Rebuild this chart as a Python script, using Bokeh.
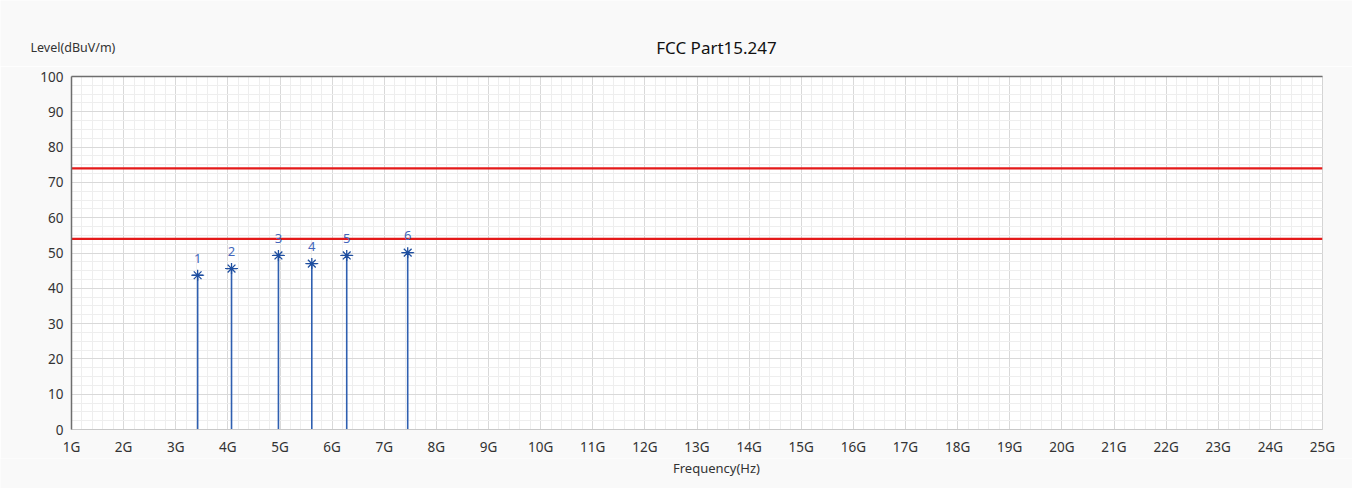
from bokeh.plotting import figure
from bokeh.layouts import column, row
from bokeh.models import (Range1d, SingleIntervalTicker, FixedTicker, LinearAxis,
                          ColumnDataSource, LabelSet)
from bokeh.core.properties import value
from bokeh.embed import file_html
from bokeh.resources import INLINE

# ---- data ----
marker_ids = ["1", "2", "3", "4", "5", "6"]
freq_ghz = [3.42, 4.07, 4.97, 5.61, 6.28, 7.45]
level_dbuv = [43.7, 45.6, 49.3, 47.0, 49.3, 50.1]
limit_peak = 74.0
limit_avg = 54.0
x_ticks = list(range(1, 26))
x_tick_labels = [f"{t}G" for t in x_ticks]
title_text = "FCC Part15.247"
y_title = "Level(dBuV/m)"
x_title = "Frequency(Hz)"

FONT = "Noto Sans"
TXT = "#333333"
BG = "#f9f9f9"
W = 1352


def text_strip(height):
    f = figure(width=W, height=height, output_backend="svg", toolbar_location=None,
               x_range=Range1d(0, W), y_range=Range1d(0, height),
               x_axis_location=None, y_axis_location=None, min_border=0)
    f.grid.visible = False
    f.outline_line_color = None
    f.background_fill_color = BG
    f.border_fill_color = BG
    return f


# header with chart title and y-axis title (pixel layout coordinates)
HEAD_H = 66
head = text_strip(HEAD_H)
head.text(x=[716], y=[HEAD_H - 47], text=[title_text], text_align="center",
          text_baseline="middle", text_font=value(FONT), text_font_size="17px",
          text_color="#111111")
head.text(x=[30], y=[HEAD_H - 47], text=[y_title], text_align="left",
          text_baseline="middle", text_font=value(FONT), text_font_size="12.5px",
          text_color=TXT)

# main chart: frame spans page y 76..431
p = figure(width=W, height=392, output_backend="svg", toolbar_location=None,
           x_range=Range1d(1, 25), y_range=Range1d(0, 100),
           min_border_left=71, min_border_right=30, min_border_top=10,
           min_border_bottom=27)
p.border_fill_color = BG
p.background_fill_color = "white"
p.outline_line_color = "#d4d4d4"

p.xaxis.ticker = SingleIntervalTicker(interval=1, num_minor_ticks=5)
p.yaxis.ticker = SingleIntervalTicker(interval=10, num_minor_ticks=4)
p.xaxis.major_label_overrides = {t: l for t, l in zip(x_ticks, x_tick_labels)}
for ax in (p.xaxis[0], p.yaxis[0]):
    ax.major_tick_line_color = None
    ax.minor_tick_line_color = None
    ax.major_tick_out = 0
    ax.minor_tick_out = 0
    ax.major_tick_in = 0
    ax.major_label_text_font = FONT
    ax.major_label_text_font_size = "13.5px"
    ax.major_label_text_color = TXT
    ax.major_label_standoff = 8
p.xaxis.axis_line_color = "#c8c8c8"
p.yaxis.axis_line_color = "#6e6e6e"
p.yaxis.axis_line_width = 1.5

top = LinearAxis(ticker=FixedTicker(ticks=[]), major_tick_line_color=None,
                 minor_tick_line_color=None, major_tick_out=0, minor_tick_out=0,
                 major_label_standoff=0, axis_line_color="#6e6e6e",
                 axis_line_width=1.5)
p.add_layout(top, "above")

p.xgrid.grid_line_color = "#d9d9d9"
p.ygrid.grid_line_color = "#d9d9d9"
p.xgrid.minor_grid_line_color = "#eeeeee"
p.ygrid.minor_grid_line_color = "#eeeeee"

# limit lines
for lv in (limit_peak, limit_avg):
    p.line([1, 25], [lv, lv], line_color="#e41a1a", line_width=2.2)

src = ColumnDataSource(dict(x=freq_ghz, y=level_dbuv, zero=[0] * len(freq_ghz),
                            lab=marker_ids))
p.segment(x0="x", y0="zero", x1="x", y1="y", source=src,
          line_color="#2f5fb0", line_width=1.6)
p.scatter(x="x", y="y", source=src, marker="asterisk", size=11,
          line_color="#1f4fa0", line_width=1.3)
p.scatter(x="x", y="y", source=src, marker="dash", size=13,
          line_color="#1f4fa0", line_width=1.0)
p.add_layout(LabelSet(x="x", y="y", text="lab", source=src, y_offset=17,
                      text_align="center", text_baseline="middle",
                      text_color="#4466bb", text_font=value(FONT),
                      text_font_size="13px"))

# footer with x-axis title (page y 458..488)
FOOT_H = 30
foot = text_strip(FOOT_H)
foot.text(x=[716], y=[FOOT_H - 9], text=[x_title], text_align="center",
          text_baseline="middle", text_font=value(FONT), text_font_size="13px",
          text_color=TXT)

layout = column(row(head), p, row(foot), spacing=0)
open("out.html", "w").write(file_html(layout, INLINE))
